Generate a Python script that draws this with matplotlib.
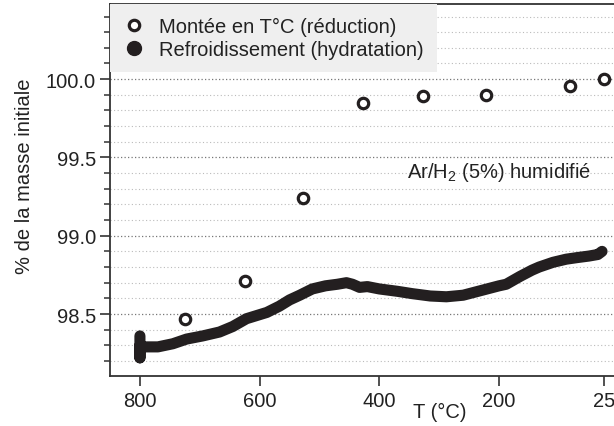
import numpy as np
import matplotlib
matplotlib.use("Agg")
import matplotlib.pyplot as plt
from matplotlib.ticker import MultipleLocator, FixedLocator

plt.rcParams['font.family'] = ['Liberation Sans', 'DejaVu Sans']
plt.rcParams['mathtext.fontset'] = 'custom'
plt.rcParams['mathtext.rm'] = 'Liberation Sans'

# heating (reduction) - open circles
t_heat = [725, 625, 527, 427, 327, 222, 82, 25]
m_heat = [98.47, 98.71, 99.24, 99.85, 99.89, 99.90, 99.955, 100.0]

# cooling (hydration) - dense filled points
t_cool = [800, 800, 800, 795, 770, 745, 722, 695, 667, 645, 622, 588, 567,
          550, 533, 512, 490, 470, 455, 445, 433, 420, 400, 370, 345, 315,
          288, 260, 245, 220, 200, 188, 165, 145, 133, 110, 88, 70, 50, 35, 28]
m_cool = [98.36, 98.22, 98.30, 98.29, 98.29, 98.31, 98.34, 98.36, 98.385,
          98.42, 98.47, 98.51, 98.55, 98.59, 98.62, 98.66, 98.68, 98.69,
          98.70, 98.69, 98.67, 98.675, 98.66, 98.645, 98.63, 98.615, 98.61,
          98.62, 98.635, 98.66, 98.68, 98.69, 98.74, 98.78, 98.80, 98.83,
          98.85, 98.86, 98.87, 98.88, 98.90]

xticks = [800, 600, 400, 200, 25]
lab_heat = 'Montée en T°C (réduction)'
lab_cool = 'Refroidissement (hydratation)'

dark = '#231f20'
fs = 14.5
fig = plt.figure(figsize=(6.14, 4.27), dpi=100)
ax = fig.add_axes([110/614, 1 - 377/427, 504/614, 372/427])

ax.plot(t_cool, m_cool, color=dark, lw=8, solid_capstyle='round',
        solid_joinstyle='round', zorder=3)
ax.plot([], [], 'o', color=dark, ms=10, label=lab_cool)
ax.plot(t_heat, m_heat, 'o', mfc='white', mec=dark, mew=2.3, ms=7.5,
        ls='none', zorder=4, label=lab_heat)

ax.set_xlim(850, 8)
ax.set_ylim(98.104, 100.48)
ax.xaxis.set_major_locator(FixedLocator(xticks))
ax.yaxis.set_major_locator(MultipleLocator(0.5))
ax.yaxis.set_minor_locator(MultipleLocator(0.1))
ax.yaxis.set_major_formatter(matplotlib.ticker.FormatStrFormatter('%.1f'))

ax.grid(axis='y', which='major', color='#777777', ls=(0, (1, 1.8)), lw=0.9)
ax.grid(axis='y', which='minor', color='#bbbbbb', ls=(0, (1, 2.2)), lw=0.8)
ax.set_axisbelow(True)

for s in ['left', 'bottom', 'top']:
    ax.spines[s].set_color('#333333')
    ax.spines[s].set_linewidth(1.3)
ax.spines['right'].set_visible(False)

ax.tick_params(axis='both', which='major', length=7, width=1.2,
               color='#333333', labelsize=fs, labelcolor='#222222')
ax.tick_params(axis='y', which='major', pad=3)
ax.tick_params(axis='x', which='major', pad=4)
ax.tick_params(axis='y', which='minor', length=4, width=1.1, color='#333333')

ax.set_xlabel('T (°C)', fontsize=fs, color='#222222')
ax.xaxis.set_label_coords(0.655, -0.07)
ax.set_ylabel('% de la masse initiale', fontsize=fs, color='#222222')
ax.yaxis.set_label_coords(-0.15, 0.54)

ax.text(200, 99.41, 'Ar/H$_\\mathregular{2}$ (5%) humidifié', fontsize=fs,
        color='#222222', ha='center', va='center')

handles, labels = ax.get_legend_handles_labels()
leg = ax.legend(handles[::-1], labels[::-1], loc='upper left',
                bbox_to_anchor=(0, 1), borderaxespad=0, frameon=True,
                fancybox=False, facecolor='#efefef', edgecolor='none',
                framealpha=1, fontsize=fs, handletextpad=0.7,
                handlelength=1.1, labelspacing=0.2, borderpad=0.65)
for t in leg.get_texts():
    t.set_color('#222222')
leg.set_zorder(10)

fig.savefig('out.png', dpi=100)
